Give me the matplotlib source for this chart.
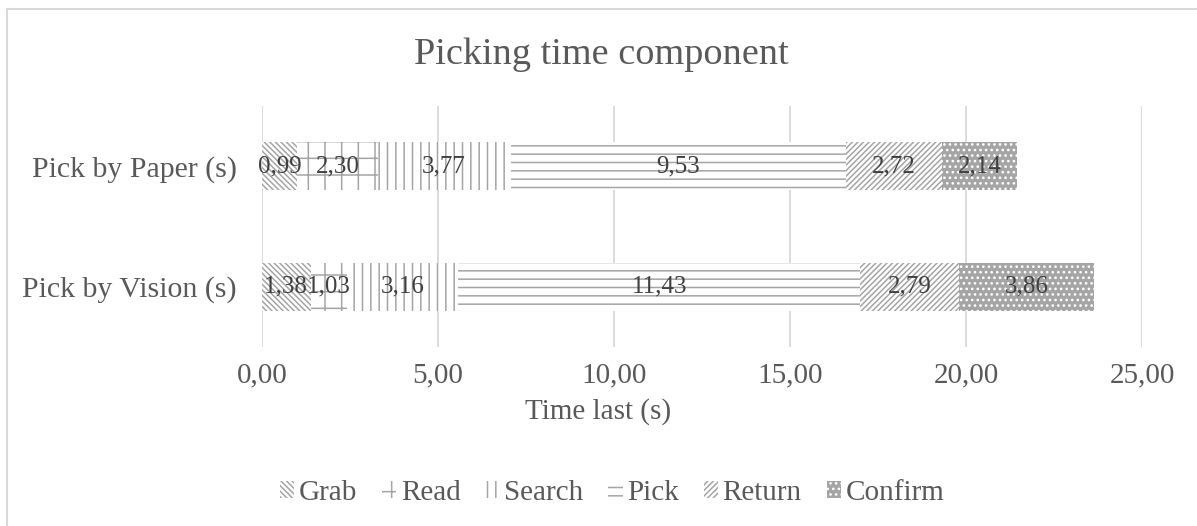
import numpy as np
import matplotlib
matplotlib.use("Agg")
import matplotlib.pyplot as plt
from matplotlib.lines import Line2D

plt.rcParams['font.family'] = ['Liberation Serif', 'DejaVu Serif']
plt.rcParams['hatch.linewidth'] = 1.1

# --------------------------------------------------
# DATOS
# --------------------------------------------------
categories = ['Pick by Vision (s)', 'Pick by Paper (s)']
components = ['Grab', 'Read', 'Search', 'Pick', 'Return', 'Confirm']
grab    = [1.38, 0.99]
read    = [1.03, 2.30]
search  = [3.16, 3.77]
pick    = [11.43, 9.53]
ret     = [2.79, 2.72]
confirm = [3.86, 2.14]
xticks  = [0, 5, 10, 15, 20, 25]

series = [grab, read, search, pick, ret, confirm]

# estilos (trama, fondo, color de trama)
HATCH_GRAY = '#a5a5a5'
styles = [
    dict(hatch='\\' * 6, facecolor='white', edgecolor=HATCH_GRAY),
    dict(hatch='+', facecolor='white', edgecolor=HATCH_GRAY),
    dict(hatch='||', facecolor='white', edgecolor=HATCH_GRAY),
    dict(hatch='--', facecolor='white', edgecolor=HATCH_GRAY),
    dict(hatch='/' * 6, facecolor='white', edgecolor=HATCH_GRAY),
    dict(hatch='...', facecolor=HATCH_GRAY, edgecolor='white'),
]

TEXT_COL  = '#595959'
LABEL_COL = '#404040'
GRID_COL  = '#d9d9d9'

# --------------------------------------------------
# FIGURA
# --------------------------------------------------
W, H = 1197, 526
fig = plt.figure(figsize=(W / 100, H / 100), dpi=100)
ax = fig.add_axes([262 / W, 1 - 347 / H, (1142 - 262) / W, (347 - 106) / H])

y = np.arange(len(categories))
left = np.zeros(len(categories))
handles = []
for name, vals, st in zip(components, series, styles):
    bars = ax.barh(y, vals, left=left, height=0.4, linewidth=0, label=name, **st)
    for yi, l, v in zip(y, left, vals):
        ax.text(l + v / 2, yi, f'{v:.2f}'.replace('.', ','), ha='center', va='center',
                fontsize=18, color=LABEL_COL)
    handles.append(bars)
    left = left + np.array(vals)

ax.set_xlim(0, 25)
ax.set_ylim(-0.5, 1.5)
ax.set_xticks(xticks)
ax.set_xticklabels([f'{t:.2f}'.replace('.', ',') for t in xticks])
ax.set_yticks(y)
ax.set_yticklabels(categories)
ax.tick_params(axis='x', length=0, pad=11, labelsize=21, labelcolor=TEXT_COL)
ax.tick_params(axis='y', length=0, pad=18, labelsize=21.5, labelcolor=TEXT_COL)
for s in ax.spines.values():
    s.set_visible(False)
ax.grid(axis='x', color=GRID_COL, lw=1.3)
ax.set_axisbelow(True)

fig.text(0.5, 1 - 412 / H, 'Time last (s)', ha='center', va='center',
         fontsize=21, color=TEXT_COL)
fig.text(601 / W, 1 - 55 / H, 'Picking time component', ha='center', va='center',
         fontsize=27.5, color=TEXT_COL)

fig.legend(handles=handles, labels=components, loc='center',
           bbox_to_anchor=(612 / W, 1 - 493 / H), ncol=6, frameon=False,
           fontsize=21, handlelength=0.5, handleheight=0.5, handletextpad=0.15,
           columnspacing=0.85, labelcolor=TEXT_COL)

# borde del gráfico (solo arriba e izquierda visibles)
fig.add_artist(Line2D([7 / W, 1.0], [1 - 9 / H, 1 - 9 / H], color=GRID_COL, lw=1.5))
fig.add_artist(Line2D([7 / W, 7 / W], [0, 1 - 9 / H], color=GRID_COL, lw=1.5))

fig.savefig('out.png', dpi=100)
